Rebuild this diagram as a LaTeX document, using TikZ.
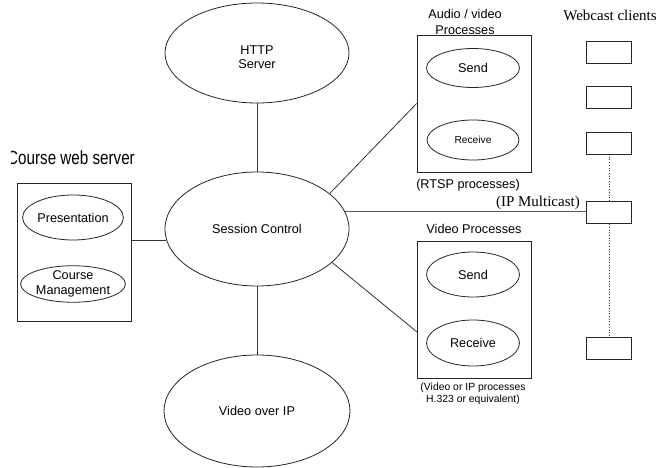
\documentclass[tikz,border=0pt]{standalone}
\usepackage{graphicx}
\usepackage{fontspec}
\setmainfont{Liberation Sans}
\newfontfamily\serifx{Liberation Serif}
\usetikzlibrary{shapes.geometric}
\tikzset{
  oval/.style={ellipse, draw=black!85, line width=0.8pt, inner sep=0pt, align=center,
    font=\fontsize{12.7}{14.3}\selectfont},
  group/.style={rectangle, draw=black!85, line width=0.8pt, inner sep=0pt, fill=white},
  client/.style={rectangle, draw=black!85, line width=0.8pt, inner sep=0pt, fill=white,
    minimum width=45pt, minimum height=22pt},
  lbl/.style={inner sep=0pt, align=center, font=\fontsize{12.7}{16}\selectfont},
  slbl/.style={inner sep=0pt, align=center, font=\fontsize{10.4}{12}\selectfont},
  serlbl/.style={inner sep=0pt, align=center, font=\serifx\fontsize{15}{17}\selectfont},
  link/.style={draw=black!80, line width=0.8pt},
}
\begin{document}
\begin{tikzpicture}[x=1pt,y=-1pt]
\useasboundingbox (0,0) rectangle (669,468);

% central ellipses
\node[oval, minimum width=184pt, minimum height=100pt] (http) at (257,53) {};
\node[lbl, font=\fontsize{12.7}{14.3}\selectfont] (httpt) at (257,57) {HTTP\\Server};
\node[oval, minimum width=184pt, minimum height=114pt] (sc) at (257,229) {Session Control};
\node[oval, minimum width=186pt, minimum height=112pt] (vip) at (257,411) {Video over IP};

% course web server
\node[group, minimum width=114pt, minimum height=138pt] (cw) at (74,252) {};
\node[oval, minimum width=92pt, minimum height=45pt] (pres) at (73,217.5) {Presentation};
\node[oval, minimum width=92pt, minimum height=34pt] (cm) at (73,284) {Course\\Management};
\begin{scope}
\clip (11,140) rectangle (160,175);
\node[inner sep=0pt, anchor=east] (cwt) at (135,158)
  {\scalebox{0.8}[1]{\fontsize{19}{21}\selectfont Course web server}};
\end{scope}

% audio / video processes
\node[group, minimum width=114pt, minimum height=137pt] (av) at (474,103.5) {};
\node[oval, minimum width=93pt, minimum height=39pt] (avs) at (473,68) {Send};
\node[oval, minimum width=92pt, minimum height=40pt, font=\fontsize{10.2}{12}\selectfont] (avr) at (473,140) {Receive};
\node[lbl] (avt) at (465,22) {Audio / video\\Processes};
\node[lbl] (rtsp) at (468,185) {(RTSP processes)};

% video processes
\node[group, minimum width=114pt, minimum height=137pt] (vb) at (474,309.5) {};
\node[oval, minimum width=93pt, minimum height=45pt] (vbs) at (473,274.5) {Send};
\node[oval, minimum width=93pt, minimum height=46pt] (vbr) at (473,343) {Receive};
\node[lbl] (vbt) at (474,229) {Video Processes};
\node[slbl] (vbc) at (473,394) {(Video or IP processes\\H.323 or equivalent)};

% webcast clients
\node[serlbl] (wct) at (610,15) {Webcast clients};
\draw[black!80, line width=0.7pt, dotted] (609,154) -- (609,337);
\node[client] (c1) at (608.5,52) {};
\node[client] (c2) at (608.5,97) {};
\node[client] (c3) at (608.5,143) {};
\node[client] (c4) at (608.5,212) {};
\node[client] (c5) at (608.5,348.5) {};
\node[serlbl, anchor=east] (ipm) at (580,203) {(IP Multicast)};

% connectors
\coordinate (vbin) at (417,332);
\draw[link] (http.south) -- (sc.north);
\draw[link] (sc.south) -- (vip.north);
\draw[link] (sc.187.6) -- (sc.187.6 -| cw.east);
\draw[link] (sc.26) -- (av.west);
\draw[link] (sc.-24) -- (vbin);
\draw[draw=black!65, line width=1.2pt] (sc.11) -- (sc.11 -| c4.west);
\end{tikzpicture}
\end{document}
